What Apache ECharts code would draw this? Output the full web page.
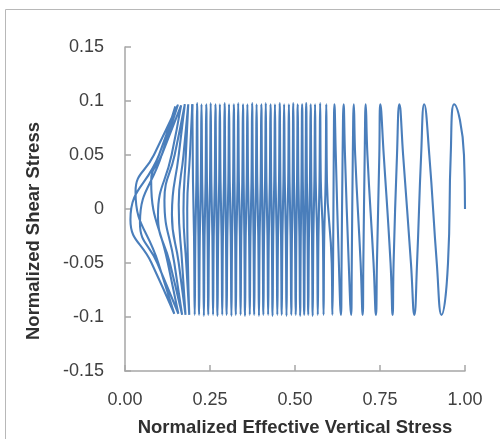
<!DOCTYPE html>
<html><head><meta charset="utf-8">
<script src="https://cdn.jsdelivr.net/npm/echarts@6/dist/echarts.min.js"></script>
<style>html,body{margin:0;padding:0;background:#fff}#c{width:500px;height:439px}</style>
</head><body><div id="c"></div>
<script>
const xTickLabels = ['0.00','0.25','0.50','0.75','1.00'];
const yTickLabels = ['-0.15','-0.1','-0.05','0','0.05','0.1','0.15'];
const xTitle = 'Normalized Effective Vertical Stress';
const yTitle = 'Normalized Shear Stress';

// first cycles (wide loops on the right)
const firstCycles = [
 [1.000,0],[0.997,0.050],[0.968,0.097],[0.958,0.050],[0.950,-0.050],[0.931,-0.098],
 [0.917,-0.050],[0.895,0.050],[0.880,0.097],[0.871,0.050],[0.859,-0.050],[0.851,-0.098],
 [0.841,-0.050],[0.818,0.050],[0.807,0.097],[0.800,0.050],[0.790,-0.050],[0.787,-0.098],
 [0.781,-0.050],[0.761,0.050],[0.751,0.097],[0.748,0.050],[0.741,-0.050],[0.738,-0.098],
 [0.731,-0.050],[0.713,0.050],[0.708,0.097],[0.705,0.050],[0.701,-0.050],[0.699,-0.098],
 [0.693,-0.050],[0.677,0.050],[0.673,0.097],[0.670,0.050],[0.667,-0.050],[0.665,-0.098],
 [0.658,-0.050],[0.647,0.050],[0.643,0.097],[0.640,0.050],[0.637,-0.050],[0.635,-0.098],
 [0.629,-0.050],[0.620,0.050],[0.616,0.097],[0.614,0.050],[0.612,-0.050],[0.610,-0.098]
];

// steady pore-pressure build-up (dense cycles)
const steadyCycles = [
 [0.608,-0.05],[0.594,0.025],[0.592,0.097],[0.590,0.025],[0.586,-0.025],[0.584,-0.098],
 [0.582,-0.025],[0.576,0.025],[0.574,0.098],[0.572,0.025],[0.569,-0.025],[0.567,-0.098],
 [0.565,-0.025],[0.561,0.025],[0.559,0.097],[0.557,0.025],[0.554,-0.025],[0.552,-0.099],
 [0.550,-0.025],[0.548,0.025],[0.546,0.097],[0.544,0.025],[0.541,-0.025],[0.539,-0.098],
 [0.537,-0.025],[0.535,0.025],[0.533,0.098],[0.531,0.025],[0.529,-0.025],[0.527,-0.098],
 [0.525,-0.025],[0.523,0.025],[0.521,0.097],[0.519,0.025],[0.517,-0.025],[0.515,-0.099],
 [0.513,-0.025],[0.510,0.025],[0.508,0.097],[0.506,0.025],[0.504,-0.025],[0.502,-0.098],
 [0.500,-0.025],[0.497,0.025],[0.495,0.098],[0.493,0.025],[0.491,-0.025],[0.489,-0.098],
 [0.487,-0.025],[0.484,0.025],[0.482,0.097],[0.480,0.025],[0.477,-0.025],[0.475,-0.099],
 [0.473,-0.025],[0.470,0.025],[0.468,0.097],[0.466,0.025],[0.463,-0.025],[0.461,-0.098],
 [0.459,-0.025],[0.457,0.025],[0.455,0.098],[0.453,0.025],[0.450,-0.025],[0.448,-0.098],
 [0.446,-0.025],[0.443,0.025],[0.441,0.097],[0.439,0.025],[0.436,-0.025],[0.434,-0.099],
 [0.432,-0.025],[0.430,0.025],[0.428,0.097],[0.426,0.025],[0.423,-0.025],[0.421,-0.098],
 [0.419,-0.025],[0.416,0.025],[0.414,0.098],[0.412,0.025],[0.409,-0.025],[0.407,-0.098],
 [0.405,-0.025],[0.403,0.025],[0.401,0.097],[0.399,0.025],[0.396,-0.025],[0.394,-0.099],
 [0.392,-0.025],[0.389,0.025],[0.387,0.097],[0.385,0.025],[0.382,-0.025],[0.380,-0.098],
 [0.378,-0.025],[0.376,0.025],[0.374,0.098],[0.372,0.025],[0.369,-0.025],[0.367,-0.098],
 [0.365,-0.025],[0.362,0.025],[0.360,0.097],[0.358,0.025],[0.355,-0.025],[0.353,-0.099],
 [0.351,-0.025],[0.349,0.025],[0.347,0.097],[0.345,0.025],[0.342,-0.025],[0.340,-0.098],
 [0.338,-0.025],[0.335,0.025],[0.333,0.098],[0.331,0.025],[0.328,-0.025],[0.326,-0.098],
 [0.324,-0.025],[0.322,0.025],[0.320,0.097],[0.318,0.025],[0.315,-0.025],[0.313,-0.099],
 [0.311,-0.025],[0.308,0.025],[0.306,0.097],[0.304,0.025],[0.301,-0.025],[0.299,-0.098],
 [0.297,-0.025],[0.295,0.025],[0.293,0.098],[0.291,0.025],[0.288,-0.025],[0.286,-0.098],
 [0.284,-0.025],[0.281,0.025],[0.279,0.097],[0.277,0.025],[0.274,-0.025],[0.272,-0.099],
 [0.270,-0.025],[0.268,0.025],[0.266,0.097],[0.264,0.025],[0.261,-0.025],[0.259,-0.098],
 [0.257,-0.025],[0.254,0.025],[0.252,0.098],[0.250,0.025],[0.247,-0.025],[0.245,-0.098],
 [0.243,-0.025],[0.241,0.025],[0.239,0.097],[0.237,0.025],[0.234,-0.025],[0.232,-0.099],
 [0.230,-0.025],[0.227,0.025],[0.225,0.097],[0.223,0.025],[0.220,-0.025],[0.218,-0.098],
 [0.216,-0.025],[0.214,0.025],[0.212,0.098],[0.210,0.025],[0.207,-0.025],[0.205,-0.098],
 [0.203,-0.025],[0.200,0.025],[0.198,0.097]
];

// final cycles approaching liquefaction (butterfly loops)
const liquefactionCycles = [
 [0.198,0.097],[0.191,0.050],[0.183,0.000],[0.185,-0.050],[0.189,-0.098],
 [0.180,-0.050],[0.172,-0.002],[0.179,0.050],[0.186,0.097],
 [0.172,0.050],[0.158,0.004],[0.168,-0.050],[0.178,-0.098],
 [0.158,-0.050],[0.138,-0.005],[0.158,0.050],[0.176,0.097],
 [0.146,0.050],[0.116,0.008],[0.145,-0.050],[0.168,-0.098],
 [0.132,-0.050],[0.097,-0.006],[0.137,0.050],[0.165,0.096],
 [0.108,0.050],[0.077,0.026],[0.126,-0.050],[0.157,-0.097],
 [0.095,-0.050],[0.044,-0.013],[0.108,0.050],[0.155,0.096],
 [0.085,0.050],[0.031,0.016],[0.098,-0.050],[0.145,-0.097],
 [0.078,-0.050],[0.016,-0.010],[0.100,0.050],[0.148,0.095]
];

const lineColor = '#4a7ebb';
const axisGray = '#a6a6a6';
const textColor = '#404040';
const font = '"Liberation Sans", Arial, sans-serif';

const chart = echarts.init(document.getElementById('c'), null, {renderer: 'canvas'});
chart.setOption({
  animation: false,
  backgroundColor: '#fff',
  grid: {left: 125, right: 35, top: 47, bottom: 68, containLabel: false, outerBoundsMode: 'none'},
  xAxis: {
    type: 'value', min: 0, max: 1, interval: 0.25,
    name: xTitle, nameLocation: 'middle', nameGap: 47,
    nameTextStyle: {fontFamily: font, fontSize: 18.5, fontWeight: 'bold', color: '#303030'},
    axisLine: {show: true, onZero: false, lineStyle: {color: axisGray, width: 1.5}},
    axisTick: {show: true, inside: true, length: 6, lineStyle: {color: axisGray, width: 1.5}},
    axisLabel: {fontFamily: font, fontSize: 18, color: textColor, margin: 20,
      formatter: v => xTickLabels[Math.round(v / 0.25)]},
    splitLine: {show: false}
  },
  yAxis: {
    type: 'value', min: -0.15, max: 0.15, interval: 0.05,
    axisLine: {show: true, onZero: false, lineStyle: {color: axisGray, width: 1.5}},
    axisTick: {show: true, inside: true, length: 6, lineStyle: {color: axisGray, width: 1.5}},
    axisLabel: {fontFamily: font, fontSize: 18, color: textColor, margin: 21,
      formatter: v => yTickLabels[Math.round((v + 0.15) / 0.05)]},
    splitLine: {show: false}
  },
  graphic: [
    {type: 'rect', silent: true, z: -10, shape: {x: 5.5, y: 9.5, width: 800, height: 800},
     style: {fill: 'none', stroke: '#b8b8b8', lineWidth: 1}},
    {type: 'text', x: 34, y: 231, rotation: Math.PI / 2,
     style: {text: yTitle, font: 'bold 18.5px ' + font, fill: '#303030',
       align: 'center', verticalAlign: 'middle', textAlign: 'center', textVerticalAlign: 'middle'}}
  ],
  series: [
    {type: 'line', data: firstCycles.concat(steadyCycles), showSymbol: false, symbol: 'none',
     smooth: 0.5, lineStyle: {color: lineColor, width: 2.1}, z: 3},
    {type: 'line', data: liquefactionCycles, showSymbol: false, symbol: 'none',
     smooth: 0.5, lineStyle: {color: lineColor, width: 2.1}, z: 3}
  ]
});
</script></body></html>
